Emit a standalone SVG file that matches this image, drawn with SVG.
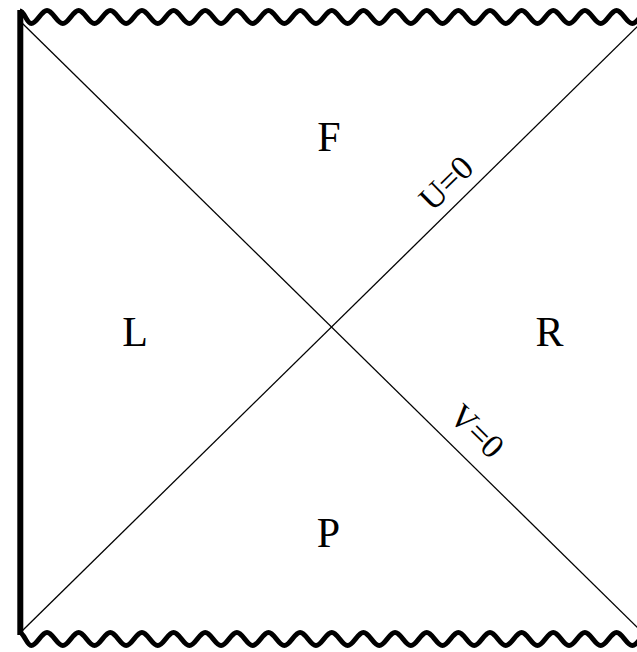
<svg xmlns="http://www.w3.org/2000/svg" width="637" height="652" viewBox="0 0 637 652">
  <style>
    .wall { fill: none; stroke: #000; stroke-width: 6; stroke-linecap: square; }
    .wave { fill: none; stroke: #000; stroke-width: 5; stroke-linejoin: round; }
    .horizon { fill: none; stroke: #000; stroke-width: 1.3; }
    .region { font-family: "Liberation Serif", "Times New Roman", serif; font-size: 42px; fill: #000; text-anchor: middle; }
    .coord { font-family: "Liberation Serif", "Times New Roman", serif; font-size: 34px; fill: #000; text-anchor: middle; }
  </style>
  <defs>
    <!-- one sine-like wave, 39 half periods of 15.82 px, starting at a trough -->
    <path id="wiggle" d="M20,11 C24,11 27,23.5 31.2,23.5
      c5.76,0 10.06,-13 15.82,-13 c5.76,0 10.06,13 15.82,13
      c5.76,0 10.06,-13 15.82,-13 c5.76,0 10.06,13 15.82,13
      c5.76,0 10.06,-13 15.82,-13 c5.76,0 10.06,13 15.82,13
      c5.76,0 10.06,-13 15.82,-13 c5.76,0 10.06,13 15.82,13
      c5.76,0 10.06,-13 15.82,-13 c5.76,0 10.06,13 15.82,13
      c5.76,0 10.06,-13 15.82,-13 c5.76,0 10.06,13 15.82,13
      c5.76,0 10.06,-13 15.82,-13 c5.76,0 10.06,13 15.82,13
      c5.76,0 10.06,-13 15.82,-13 c5.76,0 10.06,13 15.82,13
      c5.76,0 10.06,-13 15.82,-13 c5.76,0 10.06,13 15.82,13
      c5.76,0 10.06,-13 15.82,-13 c5.76,0 10.06,13 15.82,13
      c5.76,0 10.06,-13 15.82,-13 c5.76,0 10.06,13 15.82,13
      c5.76,0 10.06,-13 15.82,-13 c5.76,0 10.06,13 15.82,13
      c5.76,0 10.06,-13 15.82,-13 c5.76,0 10.06,13 15.82,13
      c5.76,0 10.06,-13 15.82,-13 c5.76,0 10.06,13 15.82,13
      c5.76,0 10.06,-13 15.82,-13 c5.76,0 10.06,13 15.82,13
      c5.76,0 10.06,-13 15.82,-13 c5.76,0 10.06,13 15.82,13
      c5.76,0 10.06,-13 15.82,-13 c5.76,0 10.06,13 15.82,13
      c5.76,0 10.06,-13 15.82,-13 c5.76,0 10.06,13 15.82,13
      c5.76,0 10.06,-13 15.82,-13 c5.76,0 10.06,13 15.82,13
      c5.76,0 10.06,-13 15.82,-13"/>
  </defs>

  <rect width="637" height="652" fill="#fff"/>

  <!-- boundaries: timelike wall on the left, singularities top and bottom -->
  <g id="wall-left">
    <line class="wall" x1="20.3" y1="13" x2="20.3" y2="632"/>
  </g>
  <g id="singularity-top">
    <use href="#wiggle" class="wave"/>
  </g>
  <g id="singularity-bottom">
    <use href="#wiggle" class="wave" transform="translate(0,622)"/>
  </g>

  <!-- horizons -->
  <g id="connectors">
    <line class="horizon" x1="22" y1="23" x2="640" y2="630"/>
    <line class="horizon" x1="22" y1="631" x2="640" y2="24"/>
  </g>

  <!-- region labels -->
  <g id="region-F"><text class="region" x="329" y="151">F</text></g>
  <g id="region-L"><text class="region" x="135" y="346">L</text></g>
  <g id="region-R"><text class="region" x="549.5" y="346">R</text></g>
  <g id="region-P"><text class="region" x="328.5" y="547">P</text></g>

  <!-- horizon labels -->
  <g id="label-U"><text class="coord" transform="translate(446,183) rotate(-44.5)" y="11.5">U=0</text></g>
  <g id="label-V"><text class="coord" transform="translate(477,431) rotate(44.5)" y="11.5">V=0</text></g>
</svg>
